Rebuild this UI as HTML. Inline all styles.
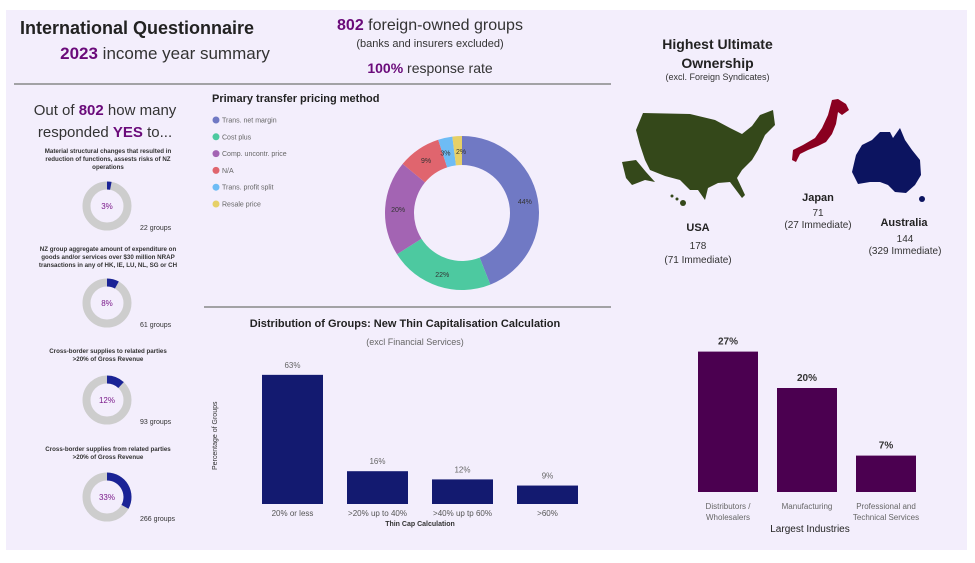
<!DOCTYPE html>
<html><head><meta charset="utf-8"><style>
body{margin:0;width:975px;height:563px;background:#fff;font-family:"Liberation Sans","DejaVu Sans",sans-serif;position:relative;overflow:hidden}
#panel{position:absolute;left:6px;top:10px;width:961px;height:540px;background:#f3eefc}
.t{position:absolute;white-space:nowrap;color:#333}
.p{color:#6a0a7a;font-weight:bold}
.c{text-align:center}
svg{position:absolute;left:0;top:0}
</style></head><body>
<div id="panel"></div>
<div class="t c" style="left:20px;top:18px;width:212px;font-size:18px;font-weight:bold;color:#222">International Questionnaire</div>
<div class="t c" style="left:40px;top:44px;width:250px;font-size:17px"><span class="p">2023</span> income year summary</div>
<div class="t c" style="left:320px;top:17px;width:220px;font-size:16px"><span class="p">802</span> foreign-owned groups</div>
<div class="t c" style="left:330px;top:38px;width:200px;font-size:11px">(banks and insurers excluded)</div>
<div class="t c" style="left:330px;top:60px;width:200px;font-size:14px"><span class="p">100%</span> response rate</div>
<div class="t c" style="left:610px;top:35px;width:215px;font-size:14px;font-weight:bold;line-height:19px;color:#222">Highest Ultimate<br>Ownership</div>
<div class="t c" style="left:610px;top:72px;width:215px;font-size:9px">(excl. Foreign Syndicates)</div>
<div class="t c" style="left:20px;top:100px;width:170px;font-size:15px;line-height:22px">Out of <span class="p">802</span> how many<br>responded <span class="p">YES</span> to...</div>
<div class="t" style="left:212px;top:93px;font-size:11px;font-weight:bold;color:#222">Primary transfer pricing method</div>
<div class="t c" style="left:205px;top:318px;width:400px;font-size:11px;font-weight:bold;color:#222">Distribution of Groups: New Thin Capitalisation Calculation</div>
<div class="t c" style="left:205px;top:337px;width:420px;font-size:9px;color:#666">(excl Financial Services)</div>
<svg width="975" height="563" id="svg">
<line x1="14" y1="84" x2="611" y2="84" stroke="#888" stroke-width="1.5"/>
<line x1="204" y1="307" x2="611" y2="307" stroke="#888" stroke-width="1.5"/>
<g id="pie"></g><g id="legend"></g><g id="minis"></g><g id="bars"></g><g id="ind"></g>
<g>
<path d="M643,113 L690,114 715,120 730,128 742,134 752,126 760,115 773,110 775,125 765,135 758,150 752,160 742,170 737,178 745,195 742,198 730,182 718,183 708,188 705,200 698,190 690,190 680,180 665,176 650,170 645,160 640,145 636,130 Z" fill="#34481a"/>
<path d="M622,162 L636,160 646,172 655,182 645,180 632,185 626,178 Z" fill="#34481a"/>
<circle cx="683" cy="203" r="3" fill="#34481a"/><circle cx="672" cy="196" r="1.5" fill="#34481a"/><circle cx="677" cy="199" r="1.5" fill="#34481a"/>
<path d="M832,100 L838,99 846,104 849,110 842,115 838,112 836,124 832,134 826,142 818,146 808,150 800,154 796,162 792,160 793,150 803,145 815,138 822,128 828,115 Z" fill="#8a0020"/>
<path d="M856,155 L862,145 872,140 880,132 890,132 893,138 900,128 905,140 912,150 920,160 921,175 915,185 906,193 895,192 888,185 880,182 870,182 858,184 852,172 Z" fill="#0c1460"/>
<circle cx="922" cy="199" r="3" fill="#0c1460"/>
</g>
</svg>
<div class="t c" style="left:660px;top:222px;width:76px;font-size:11px;font-weight:bold;color:#222">USA</div>
<div class="t c" style="left:650px;top:240px;width:96px;font-size:10px;line-height:14px">178<br>(71 Immediate)</div>
<div class="t c" style="left:780px;top:192px;width:76px;font-size:11px;font-weight:bold;color:#222">Japan</div>
<div class="t c" style="left:770px;top:208px;width:96px;font-size:10px;line-height:12px">71<br>(27 Immediate)</div>
<div class="t c" style="left:866px;top:217px;width:76px;font-size:11px;font-weight:bold;color:#222">Australia</div>
<div class="t c" style="left:855px;top:234px;width:100px;font-size:10px;line-height:12px">144<br>(329 Immediate)</div>
<div class="t c" style="left:690px;top:524px;width:240px;font-size:10px;color:#222">Largest Industries</div>
<div class="t c" style="left:340px;top:521px;width:160px;font-size:7px;font-weight:bold;color:#333">Thin Cap Calculation</div>
<div class="t" style="left:212px;top:470px;font-size:7px;transform:rotate(-90deg);transform-origin:0 0;color:#333">Percentage of Groups</div>
<script>
const NS="http://www.w3.org/2000/svg";
function mk(tag,attrs,parent){const e=document.createElementNS(NS,tag);for(const k in attrs)e.setAttribute(k,attrs[k]);parent.appendChild(e);return e;}
// pie data
const pieLabels=["Trans. net margin","Cost plus","Comp. uncontr. price","N/A","Trans. profit split","Resale price"];
const pieValues=[44,22,20,9,3,2];
const pieColors=["#7079c4","#4dc9a0","#a364b3","#e0656e","#6ebcf5","#e6d067"];
// mini donuts
const miniTitles=["Material structural changes that resulted in|reduction of functions, assests risks of NZ|operations","NZ group aggregate amount of expenditure on|goods and/or services over $30 million NRAP|transactions in any of HK, IE, LU, NL, SG or CH","Cross-border supplies to related parties|>20% of Gross Revenue","Cross-border supplies from related parties|>20% of Gross Revenue"];
const miniPct=[3,8,12,33];
const miniGroups=[22,61,93,266];
// thin cap bars
const capCats=["20% or less",">20% up to 40%",">40% up tp 60%",">60%"];
const capVals=[63,16,12,9];
// industries
const indCats=["Distributors /|Wholesalers","Manufacturing","Professional and|Technical Services"];
const indVals=[27,20,7];

function arc(cx,cy,r0,r1,a0,a1){const p=(r,a)=>[cx+r*Math.sin(a),cy-r*Math.cos(a)];const L=a1-a0>Math.PI?1:0;
const [x0,y0]=p(r1,a0),[x1,y1]=p(r1,a1),[x2,y2]=p(r0,a1),[x3,y3]=p(r0,a0);
return `M${x0},${y0}A${r1},${r1} 0 ${L} 1 ${x1},${y1}L${x2},${y2}A${r0},${r0} 0 ${L} 0 ${x3},${y3}Z`;}
// pie
const pg=document.getElementById('pie');const tot=pieValues.reduce((a,b)=>a+b,0);
let a=0;const cx=462,cy=213;
pieValues.forEach((v,i)=>{const a1=a+v/tot*2*Math.PI;
const s=mk('path',{d:arc(cx,cy,48,77,a,a1),fill:pieColors[i]},pg);


const m=(a+a1)/2,r=v<5?62:64;
const t=mk('text',{x:cx+r*Math.sin(m)+(v<5?(i==4?-3:3):0),y:cy-r*Math.cos(m)+3,'font-size':7,'text-anchor':'middle',fill:'#333'},pg);t.textContent=v+'%';


a=a1;});
const lg=document.getElementById('legend');
pieLabels.forEach((l,i)=>{const y=120+i*16.8;
const c=mk('circle',{cx:216,cy:y,r:3.5,fill:pieColors[i]},lg);


const t=mk('text',{x:222,y:y+2.5,'font-size':7,fill:'#666'},lg);t.textContent=l;});
// minis
const mg=document.getElementById('minis');
const mTop=[147,245,347,445],mCy=[206,303,400,497];
miniPct.forEach((v,i)=>{const lines=miniTitles[i].split('|');
lines.forEach((ln,j)=>{const t=mk('text',{x:108,y:mTop[i]+6+j*8,'font-size':6.2,'text-anchor':'middle',fill:'#333','font-weight':'bold'},mg);t.textContent=ln;});
mk('circle',{cx:107,cy:mCy[i],r:20.5,fill:'none',stroke:'#cdcdcd','stroke-width':8},mg);
const d=mk('path',{d:arc(107,mCy[i],16.5,24.5,0,v/100*2*Math.PI*0.999),fill:'#1a2396'},mg);


const t=mk('text',{x:107,y:mCy[i]+3,'font-size':8,'text-anchor':'middle',fill:'#7a1a8a'},mg);t.textContent=v+'%';
const g=mk('text',{x:140,y:mCy[i]+24,'font-size':7,fill:'#333'},mg);g.textContent=miniGroups[i]+'   groups';
});
// bars
const bg=document.getElementById('bars');const base=504,k=2.05;
capVals.forEach((v,i)=>{const x=262+i*85,h=v*k;
const r=mk('rect',{x:x,y:base-h,width:61,height:h,fill:'#131a70'},bg);


const t=mk('text',{x:x+30.5,y:base-h-7,'font-size':8,'text-anchor':'middle',fill:'#666'},bg);t.textContent=v+'%';
const c=mk('text',{x:x+30.5,y:base+12,'font-size':8,'text-anchor':'middle',fill:'#555'},bg);c.textContent=capCats[i];});
// industries
const ig=document.getElementById('ind');const ib=492,ik=5.2;
indVals.forEach((v,i)=>{const x=698+i*79,h=v*ik;
const r=mk('rect',{x:x,y:ib-h,width:60,height:h,fill:'#4b0050'},ig);


const t=mk('text',{x:x+30,y:ib-h-7,'font-size':10,'font-weight':'bold','text-anchor':'middle',fill:'#333'},ig);t.textContent=v+'%';
indCats[i].split('|').forEach((ln,j)=>{const c=mk('text',{x:x+30,y:ib+17+j*11,'font-size':8,'text-anchor':'middle',fill:'#666'},ig);c.textContent=ln;});});
</script>
</body></html>
